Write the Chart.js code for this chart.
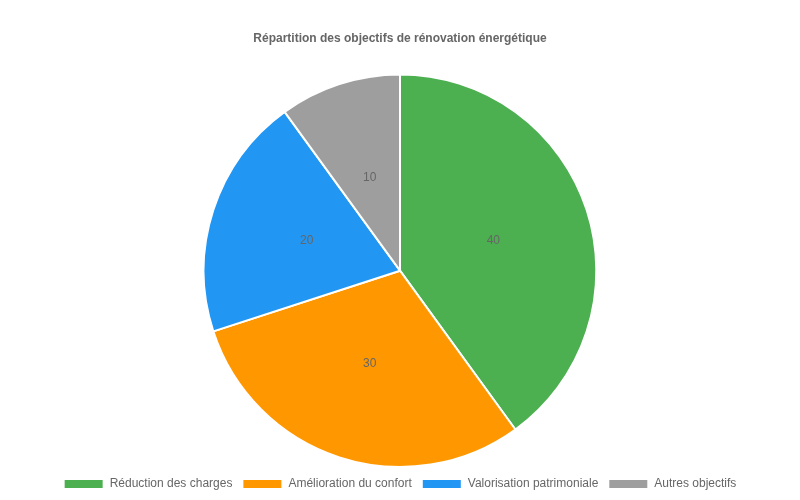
<!DOCTYPE html>
<html><head><meta charset="utf-8">
<script src="https://cdn.jsdelivr.net/npm/chart.js@4"></script>
<style>body{margin:0}#w{width:800px;height:500px}</style></head>
<body><div id="w"><canvas id="c"></canvas></div>
<script>
const categories=["Réduction des charges","Amélioration du confort","Valorisation patrimoniale","Autres objectifs"];
const values=[40,30,20,10];
const colors=["#4CAF50","#FF9800","#2196F3","#9E9E9E"];
const labelsPlugin={id:'vals',afterDatasetsDraw(chart){const ctx=chart.ctx;const meta=chart.getDatasetMeta(0);ctx.save();ctx.font='12px Liberation Sans, Arial, sans-serif';ctx.fillStyle='#666';ctx.textAlign='center';ctx.textBaseline='middle';meta.data.forEach((a,i)=>{const p=a.tooltipPosition();ctx.fillText(String(values[i]),p.x,p.y);});ctx.restore();}};
new Chart(document.getElementById('c'),{type:'pie',data:{labels:categories,datasets:[{data:values,backgroundColor:colors,borderColor:'#fff',borderWidth:2}]},
options:{responsive:true,maintainAspectRatio:false,animation:false,layout:{padding:{top:0,bottom:0}},
plugins:{title:{display:true,text:'Répartition des objectifs de rénovation énergétique',color:'#666',font:{family:'Liberation Sans, Arial, sans-serif',size:12,weight:'bold'},padding:{top:31,bottom:28}},
legend:{position:'bottom',labels:{color:'#666',font:{family:'Liberation Sans, Arial, sans-serif',size:12},boxWidth:40,boxHeight:10,padding:10}},tooltip:{enabled:false}}},plugins:[labelsPlugin]});
</script></body></html>
